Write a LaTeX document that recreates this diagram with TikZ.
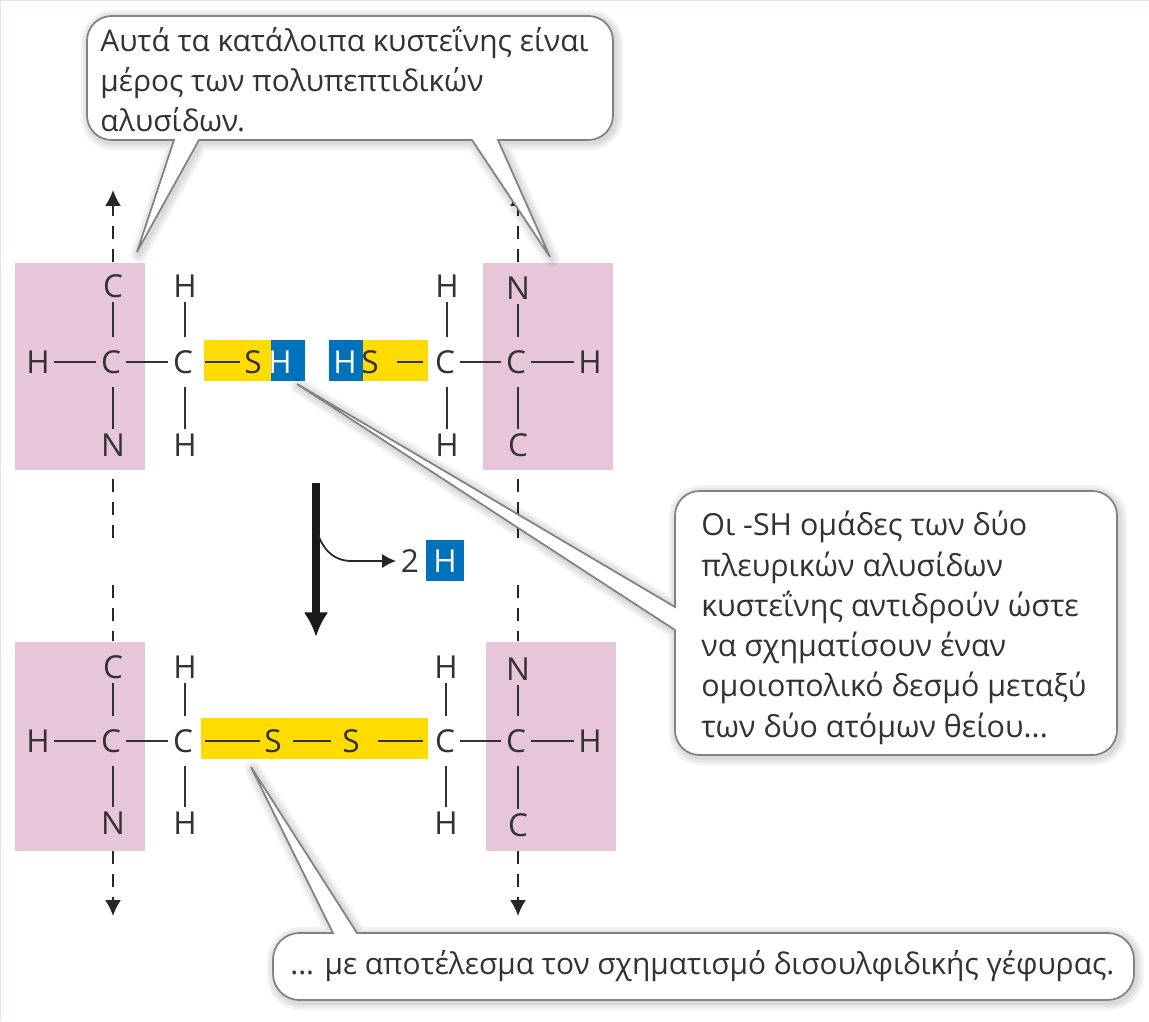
\documentclass[tikz,border=0pt]{standalone}
\usepackage{fontspec}
\usepackage{tikz}
\usetikzlibrary{arrows.meta}
\setmainfont{Open Sans}

\definecolor{peptide}{HTML}{E6C6D8}
\definecolor{sulfur}{HTML}{FFDC00}
\definecolor{proton}{HTML}{0072BC}
\definecolor{ink}{HTML}{333133}
\definecolor{rim}{HTML}{808284}

\tikzset{
  atom/.style={inner sep=2.5pt, text=ink, font=\fontsize{18}{20}\selectfont},
  bond/.style={draw=ink, line width=1pt},
  stem/.style={bond, shorten >=5pt},
  chain/.style={draw=black!85, line width=1pt, dash pattern=on 7.5pt off 5.5pt},
  tipped/.style={chain, -{Latex[length=9pt,width=9pt]}},
  softedge/.style={preaction={draw=black, draw opacity=0.05, line width=#1, line join=round, transform canvas={shift={(1pt,-1.2pt)}}}},
  callout/.style={draw=rim, line width=1pt, fill=white,
    softedge=9pt, softedge=6pt, softedge=3pt},
  saying/.style={anchor=north west, inner sep=0pt, align=left, text=ink},
}

\begin{document}
\begin{tikzpicture}[x=0.02cm, y=-0.02cm]

\useasboundingbox (0,0) rectangle (1149,1021);
\draw[peptide!60, line width=0.8pt] (0.5,1021) -- (0.5,0.5) -- (1149,0.5);

% pink and coloured bands
\fill[peptide] (15,263) rectangle (145,470);
\fill[peptide] (483,263) rectangle (613,470);
\fill[peptide] (15,642) rectangle (145,851);
\fill[peptide] (486,642) rectangle (616,851);
\fill[sulfur] (204,340) rectangle (271,381);
\fill[proton] (271,340) rectangle (305,381);
\fill[proton] (329,340) rectangle (363,381);
\fill[sulfur] (363,340) rectangle (428,381);
\fill[sulfur] (201,718) rectangle (428,759);

% chains
\draw[tipped] (113,262) -- (113,190);
\draw[tipped] (518,262) -- (518,190);
\draw[chain] (113,538) -- (113,471);
\draw[chain] (113,585) -- (113,641);
\draw[chain] (518,538) -- (518,471);
\draw[chain] (518,585) -- (518,641);
\draw[tipped] (113,851) -- (113,916);
\draw[tipped] (518,851) -- (518,916);

% before
\node[atom] (tlh) at (38,362) {H};
\node[atom] (tlc) at (111,362) {C};
\node[atom] (tlt) at (113,286) {C};
\node[atom] (tlb) at (113,445) {N};
\node[atom] (tmc) at (183,362) {C};
\node[atom] (tmt) at (185,286) {H};
\node[atom] (tmb) at (185,445) {H};
\node[atom] (tsl) at (253,362) {S};
\node[atom, text=white] (tpl) at (280,362) {H};
\node[atom, text=white] (tpr) at (345,362) {H};
\node[atom] (tsr) at (370,362) {S};
\node[atom] (trc) at (445,362) {C};
\node[atom] (trt) at (447,286) {H};
\node[atom] (trb) at (447,445) {H};
\node[atom] (tcc) at (516,362) {C};
\node[atom] (tct) at (518,288) {N};
\node[atom] (tcb) at (518,445) {C};
\node[atom] (trh) at (590,362) {H};

\draw[bond] (tlh) -- (tlc);
\draw[bond] (tlc) -- (tmc);
\draw[stem] (tlt) -- (tlt |- tlc.north);
\draw[stem] (tlb) -- (tlb |- tlc.south);
\draw[stem] (tmt) -- (tmt |- tmc.north);
\draw[stem] (tmb) -- (tmb |- tmc.south);
\draw[bond, shorten <=4pt] (tmc) -- (tsl);
\draw[bond, shorten <=8pt, shorten >=4pt] (tsr) -- (trc);
\draw[stem] (trt) -- (trt |- trc.north);
\draw[stem] (trb) -- (trb |- trc.south);
\draw[bond] (trc) -- (tcc);
\draw[bond] (tcc) -- (trh);
\draw[stem] (tct) -- (tct |- tcc.north);
\draw[stem] (tcb) -- (tcb |- tcc.south);

% after
\node[atom] (blh) at (38,741) {H};
\node[atom] (blc) at (111,741) {C};
\node[atom] (blt) at (113,667) {C};
\node[atom] (blb) at (113,823) {N};
\node[atom] (bmc) at (183,741) {C};
\node[atom] (bmt) at (185,667) {H};
\node[atom] (bmb) at (185,823) {H};
\node[atom] (bsl) at (273,741) {S};
\node[atom] (bsr) at (351,741) {S};
\node[atom] (brc) at (445,741) {C};
\node[atom] (brt) at (446,667) {H};
\node[atom] (brb) at (446,823) {H};
\node[atom] (bcc) at (516,741) {C};
\node[atom] (bct) at (518,669) {N};
\node[atom] (bcb) at (518,825) {C};
\node[atom] (brh) at (590,741) {H};

\draw[bond] (blh) -- (blc);
\draw[bond] (blc) -- (bmc);
\draw[stem] (blt) -- (blt |- blc.north);
\draw[stem] (blb) -- (blb |- blc.south);
\draw[stem] (bmt) -- (bmt |- bmc.north);
\draw[stem] (bmb) -- (bmb |- bmc.south);
\draw[bond, shorten <=4pt] (bmc) -- (bsl);
\draw[bond, shorten <=4pt, shorten >=4pt] (bsl) -- (bsr);
\draw[bond, shorten <=8pt, shorten >=4pt] (bsr) -- (brc);
\draw[stem] (brt) -- (brt |- brc.north);
\draw[stem] (brb) -- (brb |- brc.south);
\draw[bond] (brc) -- (bcc);
\draw[bond] (bcc) -- (brh);
\draw[stem] (bct) -- (bct |- bcc.north);
\draw[stem] (bcb) -- (bcb |- bcc.south);

% reaction arrow
\coordinate (rtop) at (316,483);
\coordinate (rend) at (316,637);
\coordinate (rfork) at (318,535);
\fill[proton] (426,540) rectangle (464,581);
\node[atom] (two) at (410,561) {2};
\node[atom, text=white] (lost) at (445,561) {H};
\draw[line width=4pt, black!90, -{Latex[length=14pt,width=14pt]}] (rtop) -- (rend);
\draw[line width=1pt, black!85, -{Latex[length=8pt,width=8pt]}] (rfork) .. controls (325,552) and (335,561) .. (352,561) -- (two);

% callouts
\draw[callout] (174,140) [rounded corners=14pt] -- (87,140) -- (87,16) -- (613,16) -- (613,140) [sharp corners] -- (498,140) -- (550,257) -- (472,140) -- (199,140) -- (137,252) -- cycle;
\node[saying, font=\fontsize{17}{22.7}\selectfont] (note1) at (100,26) {Αυτά τα κατάλοιπα κυστεΐνης είναι\\μέρος των πολυπεπτιδικών\\αλυσίδων.};

\draw[callout] (675,607) [rounded corners=14pt] -- (675,491) -- (1117,491) -- (1117,755) -- (675,755) [sharp corners] -- (675,630) -- (297,384) -- cycle;
\node[saying, font=\fontsize{17.3}{22.9}\selectfont] (note2) at (701,511) {Οι -SH ομάδες των δύο\\πλευρικών αλυσίδων\\κυστεΐνης αντιδρούν ώστε\\να σχηματίσουν έναν\\ομοιοπολικό δεσμό μεταξύ\\των δύο ατόμων θείου...};

\draw[callout] (333,933) [rounded corners=15pt] -- (273,933) -- (273,1000) -- (1134,1000) -- (1134,933) [sharp corners] -- (357,933) -- (251,767) -- cycle;
\node[saying, font=\fontsize{17}{22.7}\selectfont] (note3) at (290,950) {... με αποτέλεσμα τον σχηματισμό δισουλφιδικής γέφυρας.};

\end{tikzpicture}
\end{document}
